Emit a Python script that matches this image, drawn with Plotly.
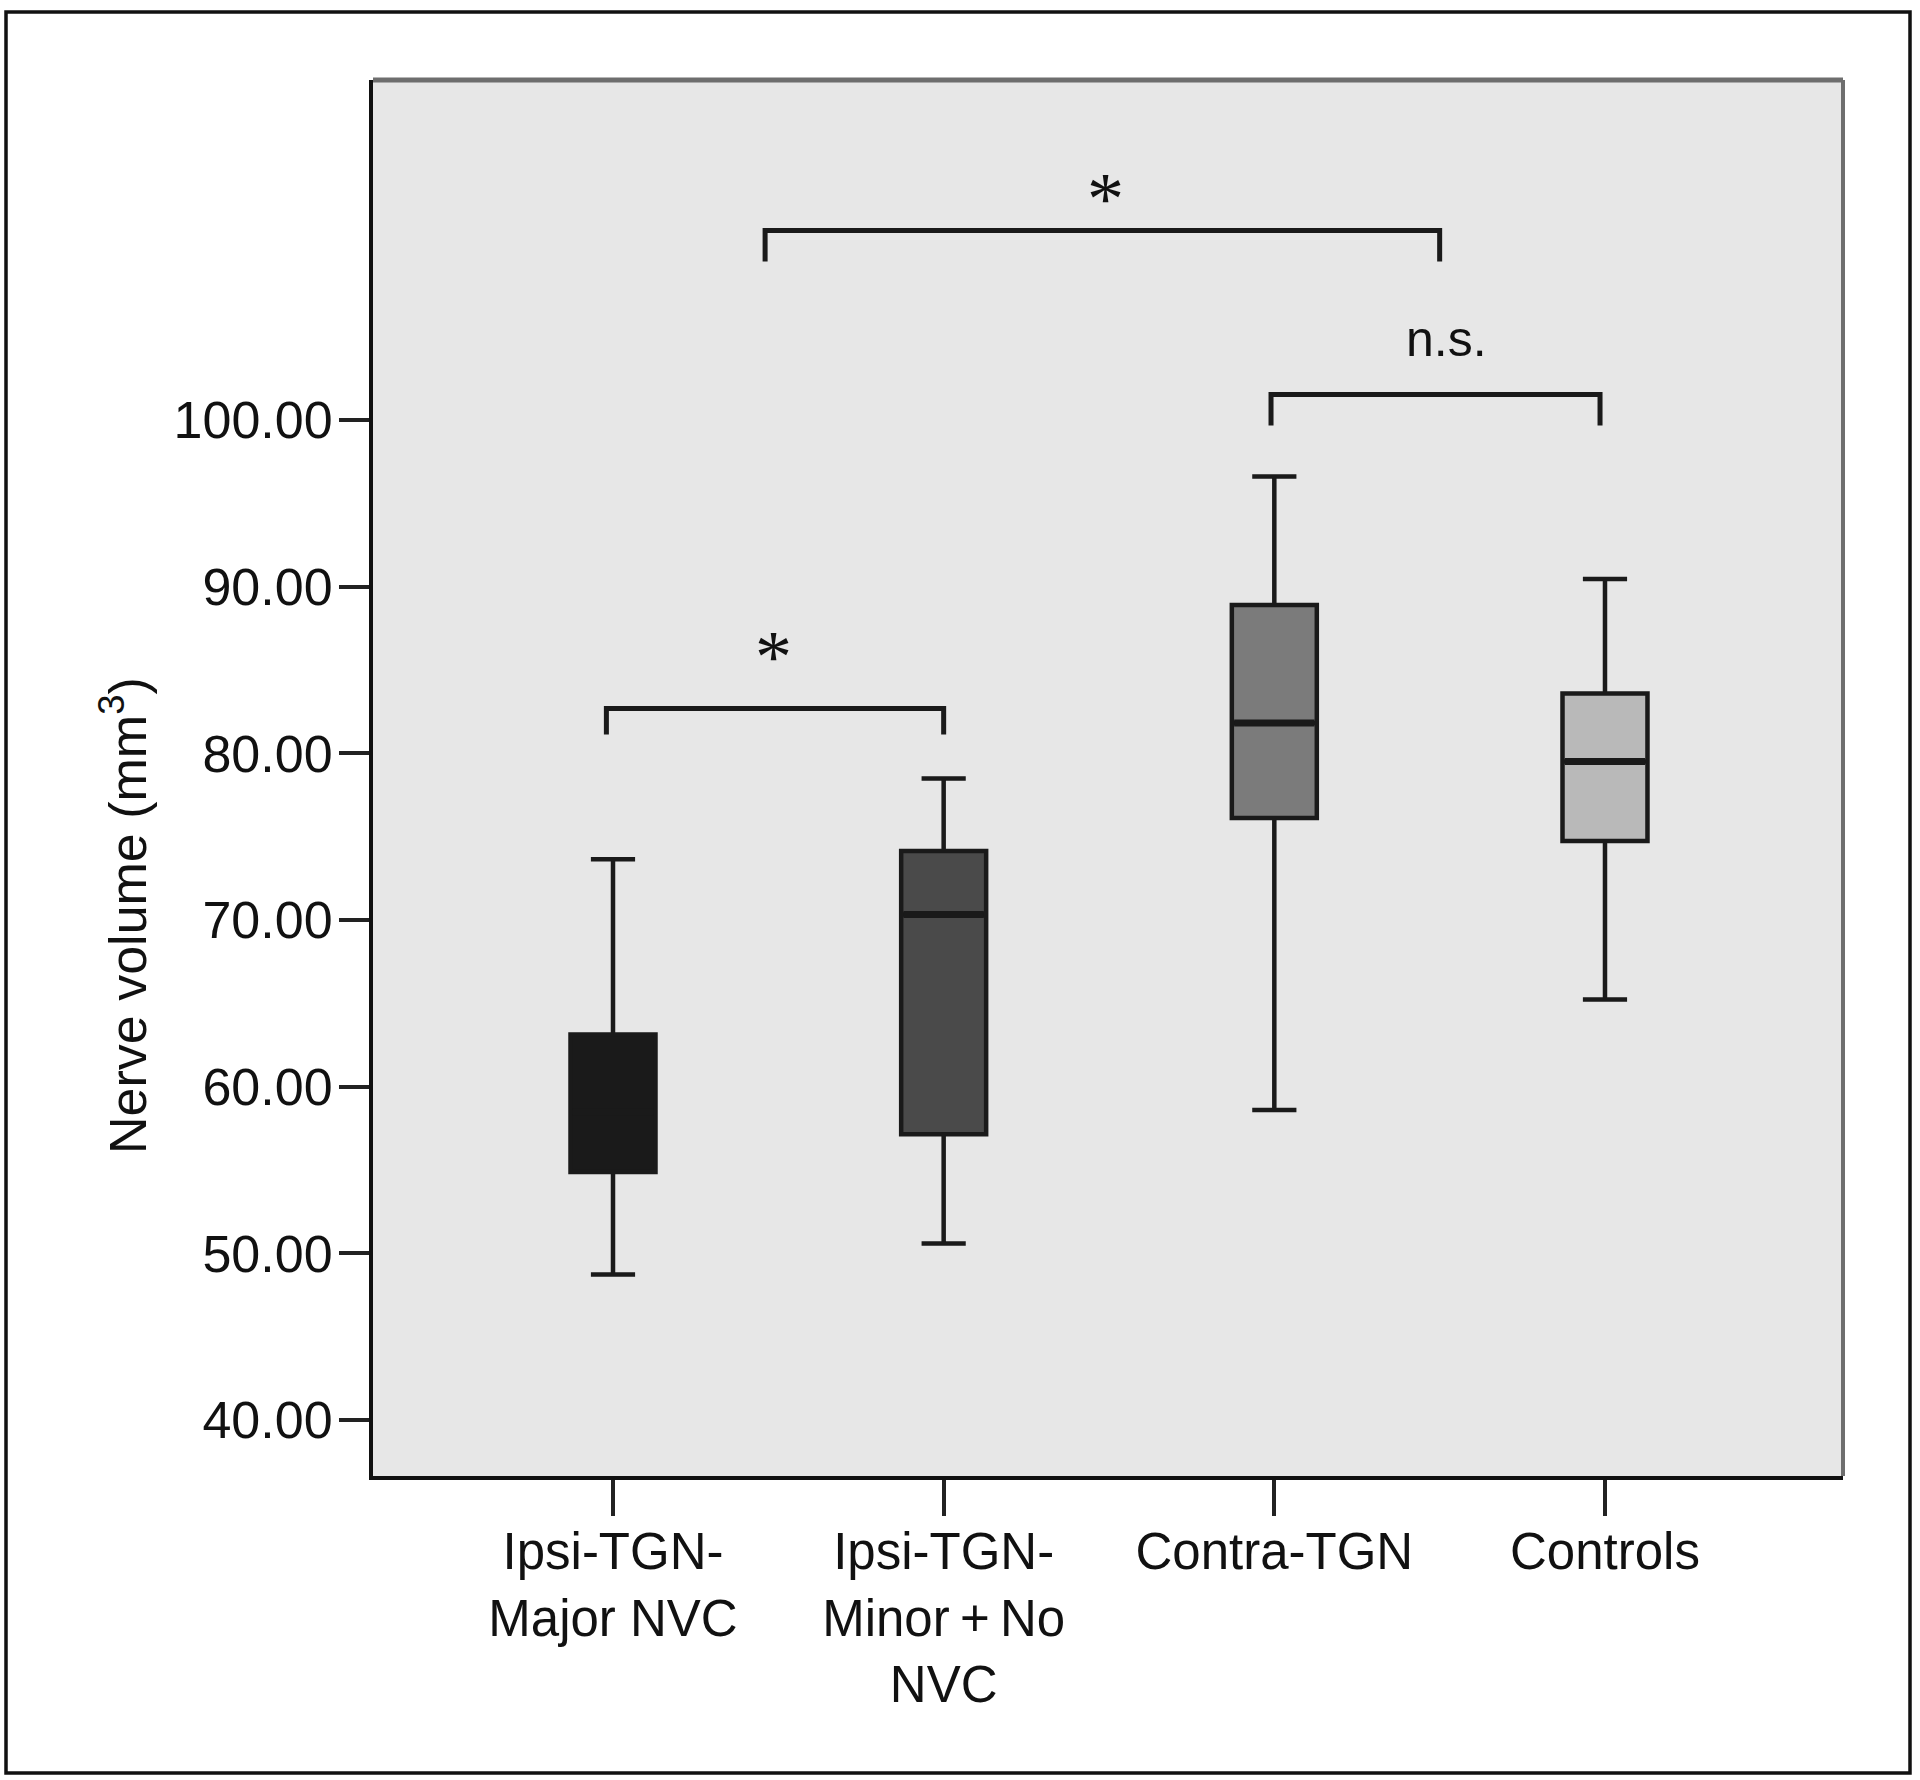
import plotly.graph_objects as go

# ---------------- data ----------------
categories = ["Ipsi-TGN-<br>Major NVC", "Ipsi-TGN-<br>Minor\u2009+\u2009No<br>NVC", "Contra-TGN", "Controls"]
lower_whisker = [48.73, 50.59, 58.60, 65.23]
q1_values     = [54.88, 57.15, 76.12, 74.74]
median_values = [58.50, 70.33, 81.82, 79.51]
q3_values     = [63.13, 74.14, 88.90, 83.59]
upper_whisker = [73.65, 78.49, 96.61, 90.46]
y_ticks = [40, 50, 60, 70, 80, 90, 100]

# significance brackets: left x, right x, bar level, leg bottom; labels
bracket_x0     = [-0.02, 0.46, 1.99]
bracket_x1     = [1.00, 2.50, 2.985]
bracket_top    = [82.69, 111.37, 101.53]
bracket_bottom = [81.13, 109.51, 99.67]
bracket_labels = ["*", "*", "n.s."]
label_x        = [0.484, 1.488, 2.522]
label_y        = [85.79, 113.27, 104.86]

# ---------------- style ----------------
fill_colors = ["#1a1a1a", "#4a4a4a", "#7b7b7b", "#b9b9b9"]
line_color = "#1a1a1a"
box_width = 0.257
FONT = "Liberation Sans, Arial, Helvetica, sans-serif"

W, H = 1920, 1780
L, R, T, B = 373, 77, 80, 304
PW, PH = W - L - R, H - T - B


def px_x(x):
    return (x - L) / PW


def px_y(y):
    return (H - B - y) / PH


fig = go.Figure()
for i, cat in enumerate(categories):
    fig.add_trace(go.Box(
        x=[i], q1=[q1_values[i]], median=[median_values[i]], q3=[q3_values[i]],
        lowerfence=[lower_whisker[i]], upperfence=[upper_whisker[i]],
        width=box_width, whiskerwidth=0.52,
        fillcolor=fill_colors[i], line=dict(color=line_color, width=4.5),
        boxpoints=False, showlegend=False, hoverinfo="skip",
    ))
    # thicker median line
    fig.add_trace(go.Scatter(
        x=[i - box_width / 2 + 0.007, i + box_width / 2 - 0.007],
        y=[median_values[i], median_values[i]],
        mode="lines", line=dict(color=line_color, width=7),
        showlegend=False, hoverinfo="skip",
    ))

# brackets
for x0, x1, yt, yb in zip(bracket_x0, bracket_x1, bracket_top, bracket_bottom):
    fig.add_trace(go.Scatter(
        x=[x0, x0, x1, x1], y=[yb, yt, yt, yb], mode="lines",
        line=dict(color=line_color, width=5),
        showlegend=False, hoverinfo="skip",
    ))

for lx, ly, lab in zip(label_x, label_y, bracket_labels):
    if lab == "*":
        fnt = dict(family="Liberation Serif, Times New Roman, serif", size=74, color="#111")
    else:
        fnt = dict(family=FONT, size=50, color="#111")
    fig.add_annotation(x=lx, y=ly, xref="x", yref="y", text=lab, showarrow=False,
                       font=fnt, xanchor="center", yanchor="middle")

# y-axis title
fig.add_annotation(x=px_x(124), y=px_y(916), xref="paper", yref="paper",
                   text="Nerve volume (mm<sup>3</sup>)", textangle=-90, showarrow=False,
                   font=dict(family=FONT, size=52, color="#111"),
                   xanchor="center", yanchor="middle")

# plot frame: top & right grey borders
fig.add_shape(type="line", xref="paper", yref="paper", x0=0, x1=1, y0=1, y1=1,
              line=dict(color="#6e6e6e", width=5))
fig.add_shape(type="line", xref="paper", yref="paper", x0=1, x1=1, y0=0, y1=1,
              line=dict(color="#6e6e6e", width=4))
# outer frame
fig.add_shape(type="rect", xref="paper", yref="paper",
              x0=px_x(6), x1=px_x(1910), y0=px_y(1773), y1=px_y(12),
              line=dict(color="#111", width=3.5), layer="below")

fig.update_layout(
    width=W, height=H,
    margin=dict(l=L, r=R, t=T, b=B, pad=0),
    paper_bgcolor="white", plot_bgcolor="#e7e7e7",
    font=dict(family=FONT, color="#111"),
    xaxis=dict(
        range=[-0.7258, 3.7198], tickmode="array", tickvals=list(range(len(categories))),
        ticktext=categories, ticks="outside", ticklen=36, tickwidth=4, tickcolor="#222",
        ticklabelstandoff=-8,
        showline=True, linecolor="#111", linewidth=4, showgrid=False, zeroline=False,
        tickfont=dict(family=FONT, size=51, color="#111"),
    ),
    yaxis=dict(
        range=[36.64, 120.4], tickmode="array", tickvals=y_ticks, tickformat=".2f",
        ticks="outside", ticklen=30, tickwidth=4, tickcolor="#222",
        ticklabelstandoff=-4,
        showline=True, linecolor="#111", linewidth=4, showgrid=False, zeroline=False,
        tickfont=dict(family=FONT, size=52, color="#111"),
    ),
)

fig.write_html("out.html", config={"displayModeBar": False},
               post_script="document.body.style.margin='0';")
